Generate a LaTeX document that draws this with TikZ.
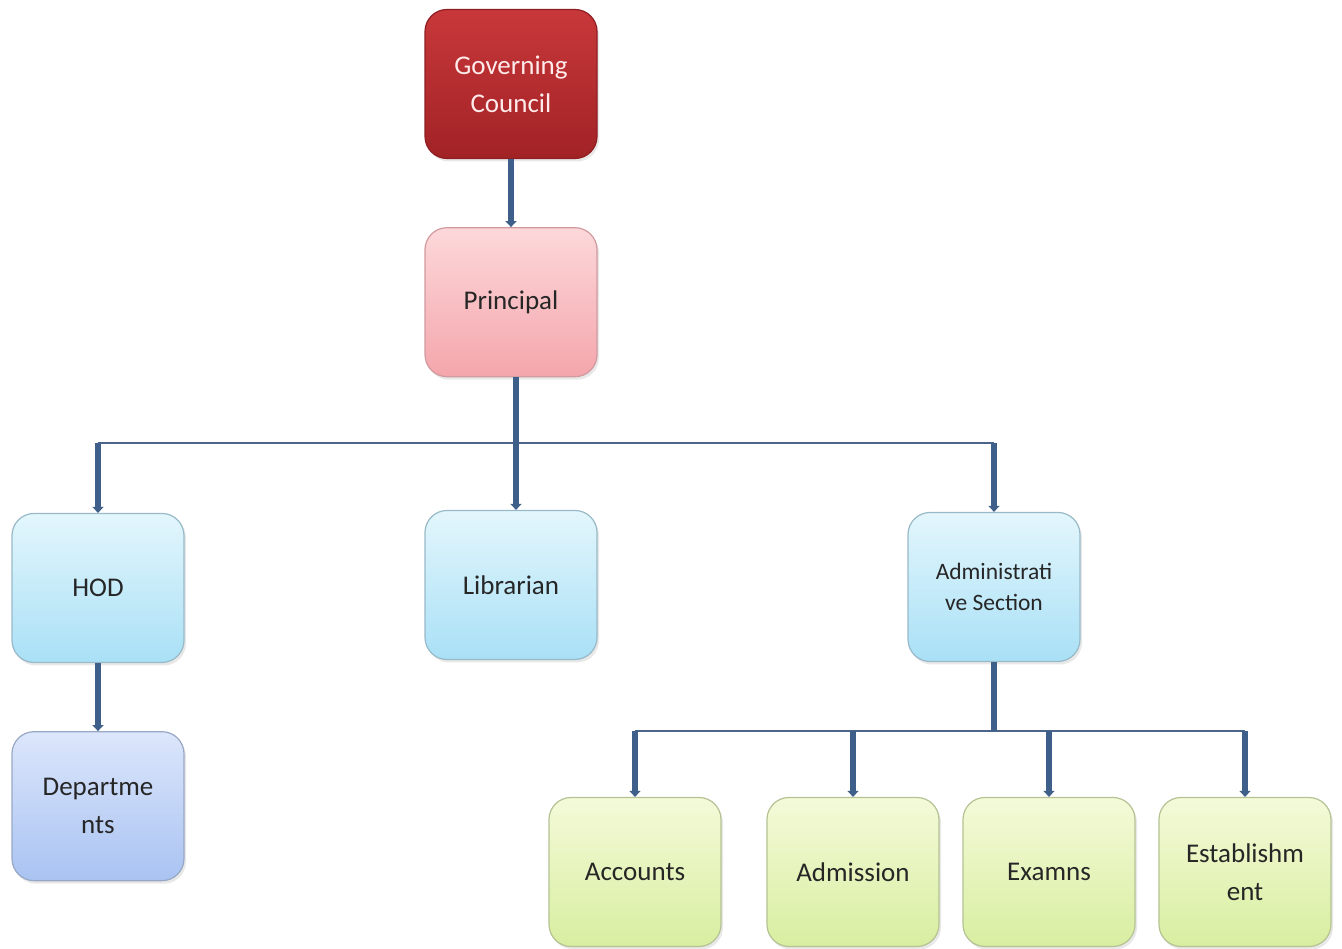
\documentclass[tikz,border=0pt]{standalone}
\usepackage{fontspec}
\setmainfont{Carlito}
\usepackage{tikz}
\usetikzlibrary{arrows.meta,positioning,shadows}

\definecolor{linkblue}{HTML}{3E5F8A}
\definecolor{gcred}{HTML}{B3262A}
\definecolor{gcredtop}{HTML}{C8383A}
\definecolor{pinktop}{HTML}{FCD8DA}
\definecolor{pinkbot}{HTML}{F4A6AC}
\definecolor{skytop}{HTML}{E3F6FC}
\definecolor{skybot}{HTML}{A9E0F6}
\definecolor{lavtop}{HTML}{DCE6FB}
\definecolor{lavbot}{HTML}{A9C3F2}
\definecolor{limetop}{HTML}{F4FAD9}
\definecolor{limebot}{HTML}{D8EEA0}

\begin{document}
\begin{tikzpicture}[
    x=1pt, y=1pt,
    node distance=68pt,
    unit/.style={draw, rounded corners=22pt, minimum width=172pt, minimum height=149pt, align=center,
        font=\fontsize{27}{38}\selectfont, text=black!85, line width=1.2pt,
        drop shadow={shadow xshift=2pt, shadow yshift=-3pt, opacity=0.18}},
    council/.style={unit, draw=gcred!80!black, top color=gcredtop, bottom color=gcred!90!black, text=red!8},
    head/.style={unit, draw=pinkbot!70!gray, top color=pinktop, bottom color=pinkbot},
    office/.style={unit, draw=skybot!60!gray, top color=skytop, bottom color=skybot},
    dept/.style={unit, draw=lavbot!60!gray, top color=lavtop, bottom color=lavbot},
    section/.style={unit, draw=limebot!60!gray, top color=limetop, bottom color=limebot},
    arrow/.style={-{Triangle[width=11pt,length=6pt]}, line width=6pt, draw=linkblue},
    bus/.style={line width=1.6pt, draw=linkblue!80!gray},
]
    \useasboundingbox (0,0) rectangle (1342,949);

    \node[council] (gc) at (511,865) {Governing\\Council};
    \node[head, below=of gc] (principal) {Principal};

    \node[office] (librarian) at (511,364) {Librarian};
    \node[office] (hod) at (98,361) {HOD};
    \node[office, font=\fontsize{23.5}{31}\selectfont] (admin) at (994,362) {Administrati\\ve Section};

    \node[dept, below=of hod] (depts) {Departme\\nts};

    \node[section] (accounts) at (635,77) {Accounts};
    \node[section] (admission) at (853,77) {Admission};
    \node[section] (examns) at (1049,77) {Examns};
    \node[section] (estab) at (1245,77) {Establishm\\ent};

    % upper level
    \coordinate (topbus) at (516,506);
    \draw[arrow] (gc) -- (principal);
    \draw[bus] (hod.north |- topbus) -- (admin.north |- topbus);
    \draw[line width=6pt, draw=linkblue] ([xshift=5pt]principal.south) -- (topbus);
    \draw[arrow] (hod.north |- topbus) -- (hod.north);
    \draw[arrow] (topbus) -- (topbus |- librarian.north);
    \draw[arrow] (admin.north |- topbus) -- (admin.north);
    \draw[arrow] (hod) -- (depts);

    % admin sections
    \coordinate (lowbus) at (994,218);
    \draw[bus] (accounts.north |- lowbus) -- (estab.north |- lowbus);
    \draw[line width=6pt, draw=linkblue] (admin.south) -- (lowbus);
    \foreach \sec in {accounts, admission, examns, estab}
        \draw[arrow] (\sec.north |- lowbus) -- (\sec.north);
\end{tikzpicture}
\end{document}
